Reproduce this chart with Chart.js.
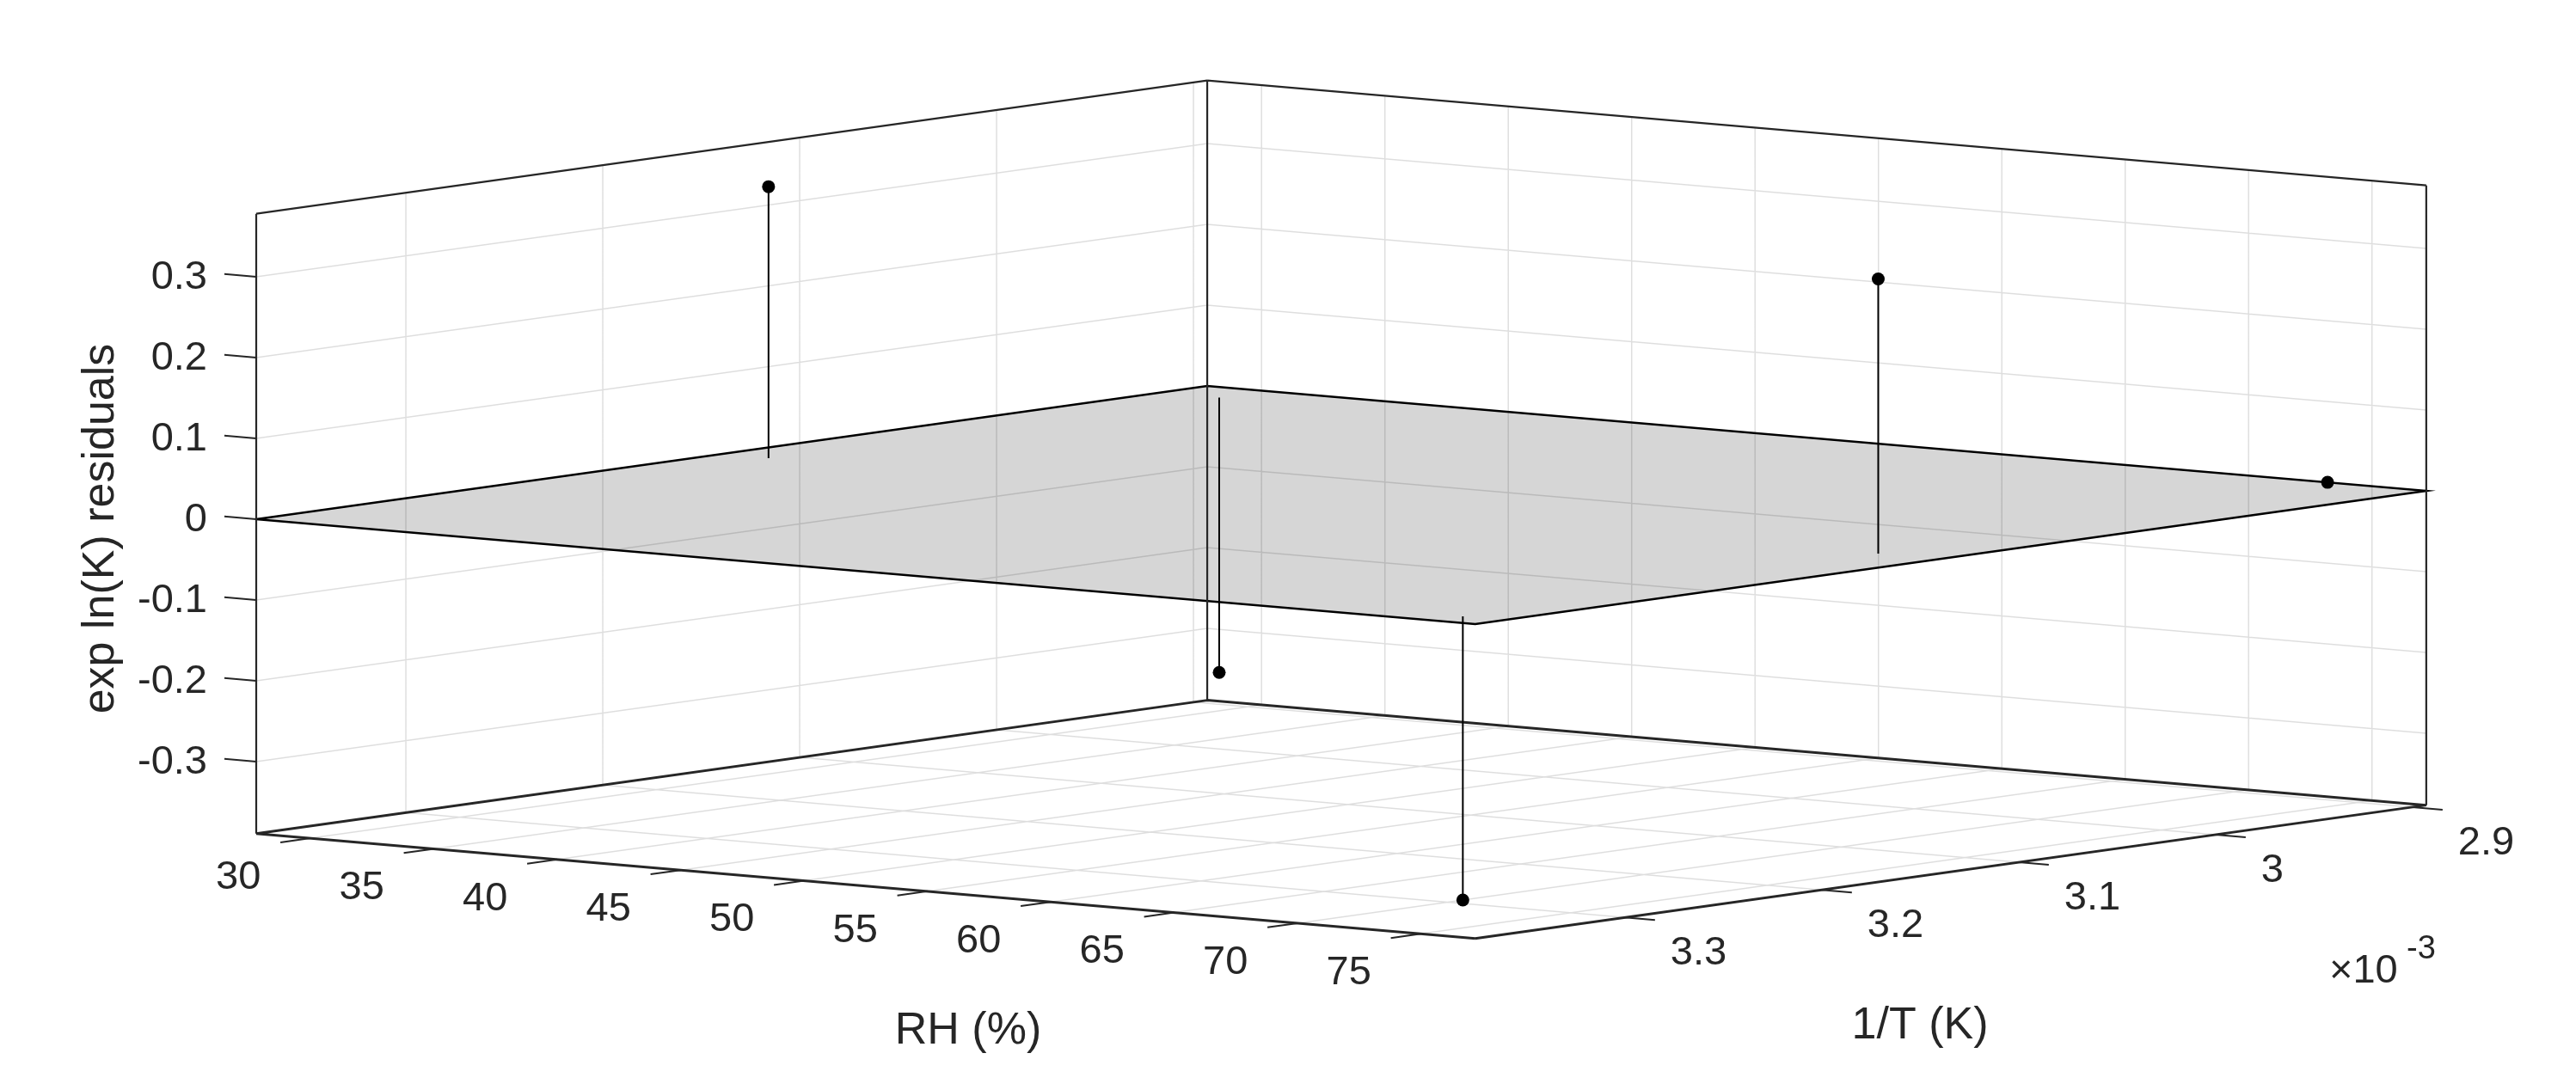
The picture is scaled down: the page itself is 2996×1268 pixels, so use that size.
<!DOCTYPE html>
<html>
<head>
<meta charset="utf-8">
<title>exp ln(K) residuals</title>
<script src="https://cdn.jsdelivr.net/npm/chart.js@4"></script>
<style>
  html, body { margin: 0; padding: 0; background: #fff; }
  canvas { display: block; }
</style>
</head>
<body>
<canvas id="residuals_chart" width="2996" height="1268"></canvas>
<script>
// DATA
const rh_ticks = [30, 35, 40, 45, 50, 55, 60, 65, 70, 75];
const rh_labels = ["30", "35", "40", "45", "50", "55", "60", "65", "70", "75"];
const t_ticks = [3.3, 3.2, 3.1, 3.0, 2.9];
const t_labels = ["3.3", "3.2", "3.1", "3", "2.9"];
const z_ticks = [-0.3, -0.2, -0.1, 0, 0.1, 0.2, 0.3];
const z_labels = ["-0.3", "-0.2", "-0.1", "0", "0.1", "0.2", "0.3"];

const point_rh = [29.73, 30.2, 74.7, 75.5, 73.2];
const point_t = [3.14, 2.917, 3.14, 3.361, 2.893];
const point_resid = [0.336, -0.340, 0.340, -0.351, 0];

const rh_lim = [27.8, 77.2];
const t_lim = [2.893, 3.376];
const z_lim = [-0.389, 0.378];

// VIEW: the 3D box is an orthographic projection
const view = {
    x0: 298, y0: 604,   // where rh_lim[0], t_lim[1], z = 0 lands
    rh_x: 28.7, rh_y: 2.47,
    t_x: 2290, t_y: -321,
    z_y: 940
};

function project(rh, t, z){
    return {
        x: view.x0 + (rh - rh_lim[0]) * view.rh_x + (t_lim[1] - t) * view.t_x,
        y: view.y0 + (rh - rh_lim[0]) * view.rh_y + (t_lim[1] - t) * view.t_y - z * view.z_y
    };
}

const GAP = {x: NaN, y: NaN};

function segments(list){
    let out = [];
    list.forEach(s => {
        out.push(project(...s[0]), project(...s[1]), GAP);
    });
    return out;
}

const [rh0, rh1] = rh_lim;
const [t0, t1] = t_lim;
const [z0, z1] = z_lim;

// GRID
let grid_lines = [];
t_ticks.forEach(t => {
    grid_lines.push([[rh0, t, z0], [rh0, t, z1]]);
    grid_lines.push([[rh0, t, z0], [rh1, t, z0]]);
});
rh_ticks.forEach(rh => {
    grid_lines.push([[rh, t0, z0], [rh, t0, z1]]);
    grid_lines.push([[rh, t0, z0], [rh, t1, z0]]);
});
z_ticks.forEach(z => {
    grid_lines.push([[rh0, t1, z], [rh0, t0, z]]);
    grid_lines.push([[rh0, t0, z], [rh1, t0, z]]);
});

// BOX
const box_lines = [
    [[rh0, t1, z0], [rh0, t1, z1]],
    [[rh0, t0, z0], [rh0, t0, z1]],
    [[rh1, t0, z0], [rh1, t0, z1]],
    [[rh0, t1, z1], [rh0, t0, z1]],
    [[rh0, t0, z1], [rh1, t0, z1]]
];
const floor_lines = [
    [[rh0, t1, z0], [rh0, t0, z0]],
    [[rh0, t0, z0], [rh1, t0, z0]],
    [[rh0, t1, z0], [rh1, t1, z0]],
    [[rh1, t1, z0], [rh1, t0, z0]]
];

// TICK MARKS
const rh_tick_len = 0.0153, t_tick_len = 1.22, z_tick_len = 1.29;
let tick_lines = [];
rh_ticks.forEach(rh => tick_lines.push([[rh, t1, z0], [rh, t1 + rh_tick_len, z0]]));
t_ticks.forEach(t => tick_lines.push([[rh1, t, z0], [rh1 + t_tick_len, t, z0]]));
z_ticks.forEach(z => tick_lines.push([[rh0, t1, z], [rh0 - z_tick_len, t1, z]]));

// FIT PLANE at residual 0
const plane_points = [[rh0, t1, 0], [rh0, t0, 0], [rh1, t0, 0], [rh1, t1, 0], [rh0, t1, 0]].map(p => project(...p));

// STEMS
const stem_lines = point_rh.map((rh, i) => [[rh, point_t[i], 0], [rh, point_t[i], point_resid[i]]]);
const dots = point_rh.map((rh, i) => project(rh, point_t[i], point_resid[i]));

// TEXT
const text_color = "#262626";
const tick_font = "47px 'Liberation Sans', Arial, sans-serif";
const title_font = "52px 'Liberation Sans', Arial, sans-serif";

const text_plugin = {
    id: "box_text",
    afterDatasetsDraw(chart){
        const c = chart.ctx;
        const sx = v => chart.scales.x.getPixelForValue(v);
        const sy = v => chart.scales.y.getPixelForValue(v);
        const label = (txt, x, y, align, font) => {
            c.font = font;
            c.textAlign = align;
            c.textBaseline = "middle";
            c.fillText(txt, sx(x), sy(y));
        };

        c.save();
        c.fillStyle = text_color;

        z_ticks.forEach((z, i) => {
            let p = project(rh0, t1, z);
            label(z_labels[i], 241, p.y + 1, "right", tick_font);
        });
        rh_ticks.forEach((rh, i) => {
            let p = project(rh, t1, z0);
            label(rh_labels[i], p.x - 84, p.y + 46, "center", tick_font);
        });
        t_ticks.forEach((t, i) => {
            let p = project(rh1, t, z0);
            label(t_labels[i], p.x + 53, p.y + 42, "left", tick_font);
        });

        label("RH (%)", 1126, 1200, "center", title_font);
        label("1/T (K)", 2233, 1194, "center", title_font);

        // exponent of the 1/T axis
        label("\u00d710", 2709, 1130, "left", tick_font);
        label("-3", 2799, 1105, "left", "38px 'Liberation Sans', Arial, sans-serif");

        c.translate(sx(118), sy(615));
        c.rotate(-Math.PI / 2);
        c.font = title_font;
        c.textAlign = "center";
        c.textBaseline = "middle";
        c.fillText("exp ln(K) residuals", 0, 0);
        c.restore();
    }
};

const line_set = (data, color, width, order) => ({
    data: data,
    showLine: true,
    borderColor: color,
    borderWidth: width,
    pointRadius: 0,
    fill: false,
    spanGaps: false,
    order: order
});

const ctx = document.getElementById("residuals_chart").getContext("2d");

const my_chart = new Chart(ctx, {
    type: "scatter",
    data: {
        datasets: [
            {
                data: plane_points,
                showLine: true,
                borderColor: "#000",
                borderWidth: 2.5,
                backgroundColor: "#d6d6d6",
                fill: "shape",
                pointRadius: 0,
                order: 7
            },
            line_set(segments(grid_lines), "rgba(0,0,0,0.13)", 1.5, 6),
            line_set(segments(box_lines), "#262626", 2.2, 5),
            line_set(segments(floor_lines), "#262626", 3, 4),
            line_set(segments(tick_lines), "#262626", 2, 3),
            line_set(segments(stem_lines), "#000", 2, 2),
            {
                data: dots,
                showLine: false,
                pointRadius: 7.5,
                pointBackgroundColor: "#000",
                pointBorderWidth: 0,
                order: 1
            }
        ]
    },
    options: {
        responsive: false,
        animation: false,
        devicePixelRatio: 1,
        layout: { padding: 0, autoPadding: false },
        plugins: { legend: { display: false }, tooltip: { enabled: false } },
        scales: {
            x: { type: "linear", display: false, min: 0, max: 2996 },
            y: { type: "linear", display: false, min: 0, max: 1268, reverse: true }
        }
    },
    plugins: [text_plugin]
});
</script>
</body>
</html>
